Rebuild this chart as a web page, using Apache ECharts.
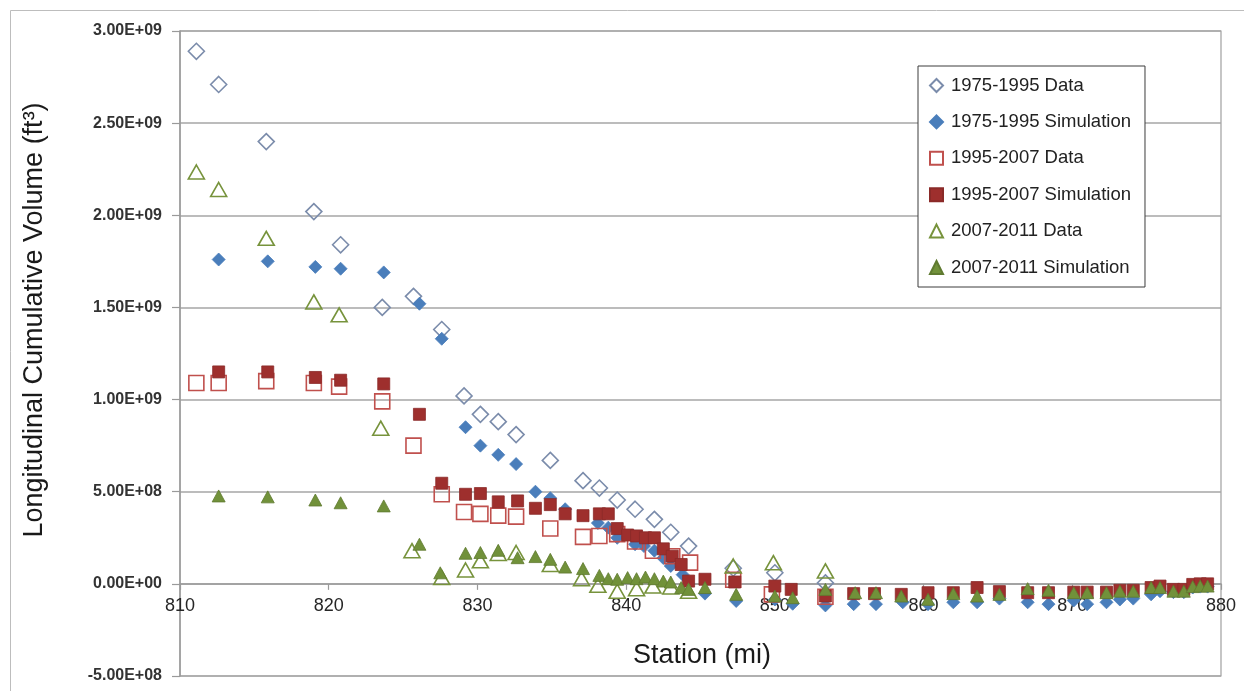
<!DOCTYPE html>
<html>
<head>
<meta charset="utf-8">
<script src="https://cdn.jsdelivr.net/npm/echarts@6/dist/echarts.min.js"></script>
<style>
html,body{margin:0;padding:0;background:#fff;}
#chart{width:1244px;height:691px;}
</style>
</head>
<body>
<div id="chart"></div>
<script>
// ---- Data (station in mi, volume in ft^3) ----
const seriesNames = ['1975-1995 Data','1975-1995 Simulation','1995-2007 Data','1995-2007 Simulation','2007-2011 Data','2007-2011 Simulation'];

const stations7595Data = [811.1, 812.6, 815.8, 819.0, 820.8, 823.6, 825.7, 827.6, 829.1, 830.2, 831.4, 832.6, 834.9, 837.1, 838.2, 839.4, 840.6, 841.9, 843.0, 844.2, 847.2, 850.0, 853.4];
const volume7595Data = [2.89e9, 2.71e9, 2.40e9, 2.02e9, 1.84e9, 1.50e9, 1.56e9, 1.38e9, 1.02e9, 0.92e9, 0.88e9, 0.81e9, 0.67e9, 0.56e9, 0.52e9, 0.455e9, 0.405e9, 0.35e9, 0.28e9, 0.205e9, 0.085e9, 0.06e9, 0.005e9];

const stations7595Sim = [812.6, 815.9, 819.1, 820.8, 823.7, 826.1, 827.6, 829.2, 830.2, 831.4, 832.6, 833.9, 834.9, 835.9, 838.1, 838.8, 839.4, 840.6, 841.2, 841.9, 842.5, 843.0, 843.8, 845.3, 847.4, 850.0, 851.2, 853.4, 855.3, 856.8, 858.6, 860.3, 862.0, 863.6, 865.1, 867.0, 868.4, 870.1, 871.0, 872.3, 873.2, 874.1, 875.3, 875.9, 876.8, 877.5, 878.1, 878.6, 879.1];
const volume7595Sim = [1.76e9, 1.75e9, 1.72e9, 1.71e9, 1.69e9, 1.52e9, 1.33e9, 0.85e9, 0.75e9, 0.70e9, 0.65e9, 0.50e9, 0.465e9, 0.405e9, 0.33e9, 0.305e9, 0.25e9, 0.215e9, 0.205e9, 0.18e9, 0.14e9, 0.097e9, 0.05e9, -0.053e9, -0.093e9, -0.085e9, -0.108e9, -0.117e9, -0.11e9, -0.11e9, -0.10e9, -0.11e9, -0.10e9, -0.10e9, -0.08e9, -0.10e9, -0.11e9, -0.09e9, -0.11e9, -0.10e9, -0.085e9, -0.08e9, -0.057e9, -0.04e9, -0.045e9, -0.045e9, -0.02e9, -0.015e9, -0.015e9];

const stations9507Data = [811.1, 812.6, 815.8, 819.0, 820.7, 823.6, 825.7, 827.6, 829.1, 830.2, 831.4, 832.6, 834.9, 837.1, 838.2, 839.4, 840.6, 841.8, 843.1, 844.3, 847.2, 849.8, 853.4];
const volume9507Data = [1.09e9, 1.09e9, 1.10e9, 1.09e9, 1.07e9, 0.99e9, 0.75e9, 0.486e9, 0.39e9, 0.38e9, 0.37e9, 0.365e9, 0.30e9, 0.255e9, 0.26e9, 0.27e9, 0.23e9, 0.18e9, 0.15e9, 0.115e9, 0.022e9, -0.057e9, -0.07e9];

const stations9507Sim = [812.6, 815.9, 819.1, 820.8, 823.7, 826.1, 827.6, 829.2, 830.2, 831.4, 832.7, 833.9, 834.9, 835.9, 837.1, 838.2, 838.8, 839.4, 840.1, 840.7, 841.3, 841.9, 842.5, 843.1, 843.7, 844.2, 845.3, 847.3, 850.0, 851.1, 853.4, 855.3, 856.7, 858.5, 860.3, 862.0, 863.6, 865.1, 867.0, 868.4, 870.1, 871.0, 872.3, 873.2, 874.1, 875.3, 875.9, 876.8, 877.5, 878.1, 878.6, 879.1];
const volume9507Sim = [1.15e9, 1.15e9, 1.12e9, 1.105e9, 1.085e9, 0.92e9, 0.546e9, 0.486e9, 0.49e9, 0.445e9, 0.45e9, 0.41e9, 0.43e9, 0.38e9, 0.37e9, 0.38e9, 0.38e9, 0.30e9, 0.265e9, 0.26e9, 0.25e9, 0.25e9, 0.19e9, 0.15e9, 0.105e9, 0.015e9, 0.025e9, 0.01e9, -0.012e9, -0.03e9, -0.066e9, -0.053e9, -0.053e9, -0.057e9, -0.048e9, -0.048e9, -0.02e9, -0.042e9, -0.048e9, -0.048e9, -0.045e9, -0.045e9, -0.045e9, -0.035e9, -0.035e9, -0.02e9, -0.012e9, -0.03e9, -0.03e9, -0.003e9, 0.0, 0.0];

const stations0711Data = [811.1, 812.6, 815.8, 819.0, 820.7, 823.5, 825.6, 827.6, 829.2, 830.2, 831.4, 832.6, 834.9, 837.0, 838.1, 839.4, 840.7, 841.8, 843.0, 844.2, 847.2, 849.9, 853.4];
const volume0711Data = [2.235e9, 2.14e9, 1.875e9, 1.53e9, 1.46e9, 0.845e9, 0.18e9, 0.035e9, 0.075e9, 0.125e9, 0.165e9, 0.17e9, 0.105e9, 0.028e9, -0.008e9, -0.04e9, -0.026e9, -0.012e9, -0.017e9, -0.04e9, 0.097e9, 0.115e9, 0.07e9];

const stations0711Sim = [812.6, 815.9, 819.1, 820.8, 823.7, 826.1, 827.5, 829.2, 830.2, 831.4, 832.7, 833.9, 834.9, 835.9, 837.1, 838.2, 838.8, 839.4, 840.1, 840.7, 841.3, 841.9, 842.5, 843.0, 843.7, 844.2, 845.3, 847.4, 850.0, 851.2, 853.4, 855.4, 856.8, 858.5, 860.3, 862.0, 863.6, 865.1, 867.0, 868.4, 870.1, 871.0, 872.3, 873.2, 874.1, 875.3, 875.9, 876.8, 877.5, 878.1, 878.6, 879.1];
const volume0711Sim = [0.477e9, 0.472e9, 0.455e9, 0.44e9, 0.423e9, 0.215e9, 0.06e9, 0.166e9, 0.17e9, 0.182e9, 0.142e9, 0.148e9, 0.133e9, 0.091e9, 0.083e9, 0.046e9, 0.028e9, 0.025e9, 0.034e9, 0.028e9, 0.037e9, 0.028e9, 0.015e9, 0.01e9, -0.02e9, -0.03e9, -0.02e9, -0.057e9, -0.066e9, -0.075e9, -0.03e9, -0.048e9, -0.048e9, -0.066e9, -0.084e9, -0.053e9, -0.066e9, -0.057e9, -0.026e9, -0.035e9, -0.048e9, -0.048e9, -0.048e9, -0.04e9, -0.04e9, -0.02e9, -0.02e9, -0.04e9, -0.04e9, -0.015e9, -0.012e9, -0.012e9];

const xTicks = { min: 810, max: 880, interval: 10 };
const yTicks = { min: -5e8, max: 3e9, interval: 5e8 };

// ---- Chart ----
function zip(xs, ys) { return xs.map((x, i) => [x, ys[i]]); }
function sci(v) {
  const parts = Number(v).toExponential(2).split('e');
  const exp = parseInt(parts[1], 10);
  const sign = exp < 0 ? '-' : '+';
  const abs = Math.abs(exp);
  return parts[0] + 'E' + sign + (abs < 10 ? '0' + abs : String(abs));
}

const FONT = '"Liberation Sans", Arial, sans-serif';
const GRID = { left: 180, right: 23, top: 31, bottom: 15 };
const CHART_H = 691;
// offset that places the x axis (line, ticks, labels) where y = 0 sits
const plotH = CHART_H - GRID.top - GRID.bottom;
const zeroFromBottom = plotH * (0 - yTicks.min) / (yTicks.max - yTicks.min);

const chart = echarts.init(document.getElementById('chart'), null, { renderer: 'canvas' });

const hollow = (symbol, size, stroke) => ({
  type: 'scatter', symbol: symbol, symbolSize: size,
  itemStyle: { color: 'rgba(255,255,255,0)', borderColor: stroke, borderWidth: 1.6, opacity: 1 },
  emphasis: { disabled: true }, animation: false
});
const filled = (symbol, size, fill, stroke) => ({
  type: 'scatter', symbol: symbol, symbolSize: size,
  itemStyle: { color: fill, borderColor: stroke, borderWidth: 0.8, opacity: 1 },
  emphasis: { disabled: true }, animation: false
});

const series = [
  Object.assign(hollow('diamond', 16, '#7b8cab'), { name: seriesNames[0], data: zip(stations7595Data, volume7595Data) }),
  Object.assign(filled('diamond', 13, '#4a7ebb', '#4a7ebb'), { name: seriesNames[1], data: zip(stations7595Sim, volume7595Sim) }),
  Object.assign(hollow('rect', 15, '#c0504d'), { name: seriesNames[2], data: zip(stations9507Data, volume9507Data) }),
  Object.assign(filled('rect', 12, '#9e2f2d', '#8a2a28'), { name: seriesNames[3], data: zip(stations9507Sim, volume9507Sim) }),
  Object.assign(hollow('triangle', [16, 14], '#77933c'), { name: seriesNames[4], data: zip(stations0711Data, volume0711Data) }),
  Object.assign(filled('triangle', [13, 12], '#71913a', '#5f7a30'), { name: seriesNames[5], data: zip(stations0711Sim, volume0711Sim) })
];

chart.setOption({
  backgroundColor: '#ffffff',
  animation: false,
  textStyle: { fontFamily: FONT },
  grid: {
    left: GRID.left, right: GRID.right, top: GRID.top, bottom: GRID.bottom,
    containLabel: false,
    show: true, borderColor: '#a0a0a0', borderWidth: 1.2, backgroundColor: 'transparent'
  },
  legend: {
    orient: 'vertical',
    left: 918, top: 66,
    padding: [10, 14, 10, 11],
    itemWidth: 13, itemHeight: 13,
    itemGap: 17.4,
    backgroundColor: '#ffffff',
    borderColor: '#3c3c3c', borderWidth: 1,
    textStyle: { fontSize: 18.5, color: '#222', lineHeight: 18, fontFamily: FONT, padding: [0, 0, 0, 3] },
    data: seriesNames,
    selectedMode: false
  },
  xAxis: {
    type: 'value',
    position: 'bottom',
    offset: -zeroFromBottom,
    min: xTicks.min, max: xTicks.max, interval: xTicks.interval,
    axisLine: { show: true, onZero: false, lineStyle: { color: '#9a9a9a', width: 1.5 } },
    axisTick: { show: true, inside: false, length: 6, lineStyle: { color: '#9a9a9a', width: 1.2 } },
    axisLabel: { fontSize: 18, color: '#262626', margin: 13, fontFamily: FONT },
    splitLine: { show: false }
  },
  yAxis: {
    type: 'value',
    min: yTicks.min, max: yTicks.max, interval: yTicks.interval,
    axisLine: { show: true, lineStyle: { color: '#9a9a9a', width: 1.5 } },
    axisTick: { show: true, inside: false, length: 8, lineStyle: { color: '#9a9a9a', width: 1.2 } },
    axisLabel: { fontSize: 16, fontWeight: 'bold', color: '#333', margin: 18, fontFamily: FONT, formatter: sci },
    splitLine: { show: true, lineStyle: { color: '#a6a6a6', width: 1.5 } }
  },
  graphic: [
    { type: 'rect', silent: true, z: -10,
      shape: { x: 10.5, y: 10.5, width: 1300, height: 800 },
      style: { fill: 'none', stroke: '#bdbdbd', lineWidth: 1 } },
    { type: 'text', silent: true,
      x: 35, y: 320, rotation: Math.PI / 2,
      style: { text: 'Longitudinal Cumulative Volume (ft³)', fontSize: 27, fontFamily: FONT, fill: '#1a1a1a', align: 'center', verticalAlign: 'middle' } },
    { type: 'text', silent: true,
      x: 702, y: 656,
      style: { text: 'Station (mi)', fontSize: 27, fontFamily: FONT, fill: '#1a1a1a', align: 'center', verticalAlign: 'middle' } }
  ],
  series: series
});
</script>
</body>
</html>
